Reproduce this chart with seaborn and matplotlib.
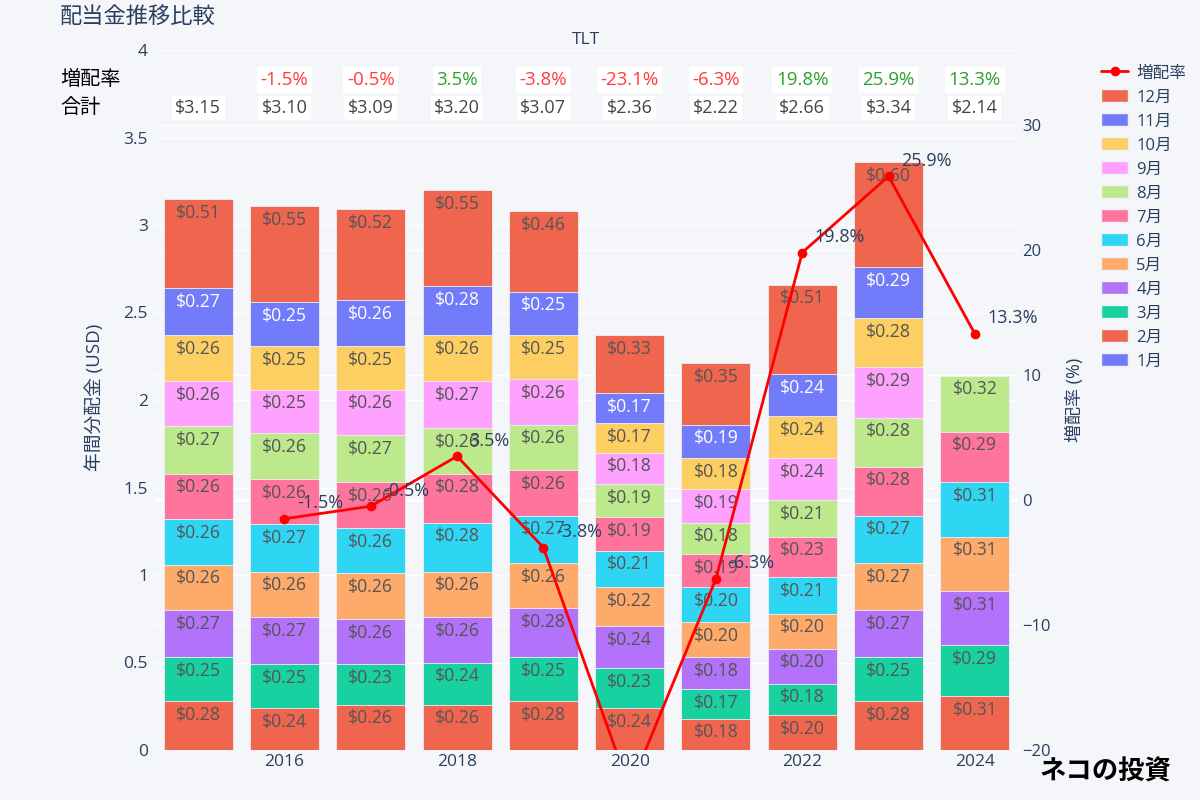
import matplotlib
matplotlib.use('Agg')
import matplotlib.pyplot as plt
import matplotlib.transforms as mtransforms
from matplotlib.lines import Line2D
from matplotlib.patches import Patch
import numpy as np
import pandas as pd
import seaborn as sns

# ---- data ----
years = ['2015', '2016', '2017', '2018', '2019', '2020', '2021', '2022', '2023', '2024']
months = ['1月', '2月', '3月', '4月', '5月', '6月', '7月', '8月', '9月', '10月', '11月', '12月']

# monthly dividend per year (Jan..Dec), USD
div_2015 = [0, 0.28, 0.25, 0.27, 0.26, 0.26, 0.26, 0.27, 0.26, 0.26, 0.27, 0.51]
div_2016 = [0, 0.24, 0.25, 0.27, 0.26, 0.27, 0.26, 0.26, 0.25, 0.25, 0.25, 0.55]
div_2017 = [0, 0.26, 0.23, 0.26, 0.26, 0.26, 0.26, 0.27, 0.26, 0.25, 0.26, 0.52]
div_2018 = [0, 0.26, 0.24, 0.26, 0.26, 0.28, 0.28, 0.26, 0.27, 0.26, 0.28, 0.55]
div_2019 = [0, 0.28, 0.25, 0.28, 0.26, 0.27, 0.26, 0.26, 0.26, 0.25, 0.25, 0.46]
div_2020 = [0, 0.24, 0.23, 0.24, 0.22, 0.21, 0.19, 0.19, 0.18, 0.17, 0.17, 0.33]
div_2021 = [0, 0.18, 0.17, 0.18, 0.20, 0.20, 0.19, 0.18, 0.19, 0.18, 0.19, 0.35]
div_2022 = [0, 0.20, 0.18, 0.20, 0.20, 0.21, 0.23, 0.21, 0.24, 0.24, 0.24, 0.51]
div_2023 = [0, 0.28, 0.25, 0.27, 0.27, 0.27, 0.28, 0.28, 0.29, 0.28, 0.29, 0.60]
div_2024 = [0, 0.31, 0.29, 0.31, 0.31, 0.31, 0.29, 0.32, 0, 0, 0, 0]
dividends = [div_2015, div_2016, div_2017, div_2018, div_2019,
             div_2020, div_2021, div_2022, div_2023, div_2024]

total_labels = ['$3.15', '$3.10', '$3.09', '$3.20', '$3.07', '$2.36', '$2.22', '$2.66', '$3.34', '$2.14']
growth = [np.nan, -1.5, -0.5, 3.5, -3.8, -23.1, -6.3, 19.8, 25.9, 13.3]

# ---- style ----
bg = '#f4f6fa'
txt = '#2a3f5f'
plotly_cols = ['#636EFA', '#EF553B', '#00CC96', '#AB63FA', '#FFA15A', '#19D3F3',
               '#FF6692', '#B6E880', '#FF97FF', '#FECB52', '#636EFA', '#EF553B']


def blend(c, a=0.9):
    r, g, b = matplotlib.colors.to_rgb(c)
    br, bgc, bb = matplotlib.colors.to_rgb(bg)
    return (r * a + br * (1 - a), g * a + bgc * (1 - a), b * a + bb * (1 - a))


month_cols = [blend(c) for c in plotly_cols]

sns.set_theme(style='darkgrid', rc={'axes.facecolor': bg, 'figure.facecolor': bg,
                                    'grid.color': 'white', 'grid.linewidth': 1.0})
plt.rcParams['font.family'] = ['Open Sans', 'Noto Sans CJK JP', 'DejaVu Sans']

fig = plt.figure(figsize=(12, 8), dpi=100)
ax = fig.add_axes([155 / 1200, 50 / 800, 863 / 1200, 700 / 800])
ax_grid = ax.twinx()
ax_line = ax.twinx()
ax_grid.set_zorder(0)
ax.set_zorder(1)
ax_line.set_zorder(2)
ax.patch.set_visible(False)
ax_line.patch.set_visible(False)
ax_grid.patch.set_facecolor(bg)

# ---- stacked bars (cumulative, drawn top month first) ----
vals = np.array(dividends)
cum = np.cumsum(vals, axis=1)
df = pd.DataFrame({'year': years})
for m in range(12):
    df[months[m]] = np.where(vals[:, m] > 0, cum[:, m], np.nan)

for m in range(11, -1, -1):
    if np.all(vals[:, m] == 0):
        continue
    sns.barplot(data=df, x='year', y=months[m], order=years, color=month_cols[m],
                saturation=1, width=0.8, edgecolor='#eef1f7', linewidth=0.6,
                errorbar=None, ax=ax)

for i in range(len(years)):
    for m in range(12):
        v = vals[i, m]
        if v <= 0:
            continue
        col = 'white' if plotly_cols[m] == '#636EFA' else '#555555'
        ax.annotate('\\$%.2f' % v, xy=(i, cum[i, m]), xytext=(0, -10),
                    textcoords='offset points', ha='center', va='center',
                    fontsize=12.7, color=col)

ax.set_xlim(-0.5, len(years) - 0.5)
ax.set_ylim(0, 4)
ax.set_yticks([0, 0.5, 1, 1.5, 2, 2.5, 3, 3.5, 4])
ax.set_yticklabels(['0', '0.5', '1', '1.5', '2', '2.5', '3', '3.5', '4'])
ax.set_xticks(range(1, len(years), 2))
ax.set_xticklabels(years[1::2])
ax.set_xlabel('')
ax.set_ylabel('')
ax.tick_params(axis='both', length=0, labelsize=12.5, labelcolor=txt)
ax.tick_params(axis='y', pad=5)
ax.tick_params(axis='x', pad=3)
ax.grid(axis='x', visible=False)

# ---- right axis grid (behind bars) ----
r_ticks = [-20, -10, 0, 10, 20, 30]
ax_grid.set_ylim(-20, 36)
ax_grid.set_yticks(r_ticks)
ax_grid.grid(axis='y', visible=True, color='white', linewidth=1.0)
ax_grid.axhline(0, color='white', linewidth=2)
ax_grid.tick_params(axis='y', length=0, labelright=False, labelleft=False)

# ---- growth line ----
xs = np.arange(len(years))
sns.lineplot(x=xs[1:], y=growth[1:], ax=ax_line, color='red', marker='o',
             markersize=7, markeredgewidth=0, linewidth=2, legend=False)
for i in range(1, len(years)):
    ax_line.annotate('%.1f%%' % growth[i], xy=(xs[i], growth[i]), xytext=(9, 11),
                     textcoords='offset points', ha='left', va='center',
                     fontsize=13, color=txt, annotation_clip=True)
ax_line.set_ylim(-20, 36)
ax_line.set_yticks(r_ticks)
ax_line.grid(False)
ax_line.set_ylabel('')
ax_line.tick_params(axis='y', length=0, labelsize=12, labelcolor=txt, pad=3)

for a in (ax, ax_grid, ax_line):
    for s in a.spines.values():
        s.set_visible(False)

# ---- header rows ----
trans = mtransforms.blended_transform_factory(ax.transData, fig.transFigure)
fig.text(60 / 1200, 1 - 80 / 800, '増配率', fontsize=14.5, color='black', va='center')
fig.text(60 / 1200, 1 - 108 / 800, '合計', fontsize=14.5, color='black', va='center')
for i in range(len(years)):
    if not np.isnan(growth[i]):
        gcol = '#ff3b3b' if growth[i] < 0 else '#2ca02c'
        ax.text(i, 1 - 80 / 800, '%.1f%%' % growth[i], transform=trans, ha='center',
                va='center', fontsize=13.5, color=gcol,
                bbox=dict(facecolor='white', edgecolor='none', pad=2.5))
    ax.text(i, 1 - 108 / 800, total_labels[i].replace('$', '\\$'), transform=trans,
            ha='center', va='center', fontsize=13, color='#444444',
            bbox=dict(facecolor='white', edgecolor='none', pad=2.5))

# ---- titles & axis labels ----
fig.text(60 / 1200, 1 - 18 / 800, '配当金推移比較', fontsize=16, color=txt, va='center')
fig.text(586 / 1200, 1 - 40 / 800, 'TLT', fontsize=12.5, color=txt, ha='center', va='center')
fig.text(95 / 1200, 1 - 397 / 800, '年間分配金 (USD)', fontsize=13.5, color=txt, rotation=90,
         ha='center', va='center')
fig.text(1075 / 1200, 0.5, '増配率 (%)', fontsize=13, color=txt, rotation=90,
         ha='center', va='center')

# ---- legend ----
handles = [Line2D([0], [0], color='red', marker='o', markersize=7, markeredgewidth=0,
                  linewidth=2)]
labels = ['増配率']
for m in range(11, -1, -1):
    handles.append(Patch(facecolor=month_cols[m], edgecolor='#eef1f7'))
    labels.append(months[m])
fig.legend(handles, labels, loc='upper left', bbox_to_anchor=(1093 / 1200, 1 - 57 / 800),
           frameon=False, fontsize=12, labelcolor=txt, labelspacing=0.47,
           handlelength=1.6, handleheight=0.8, handletextpad=0.5, borderpad=0)

# ---- logo text ----
fig.text(1105 / 1200, 1 - 772 / 800, 'ネコの投資', fontsize=19, fontweight='bold',
         color='black', ha='center', va='center')

fig.savefig('out.png', dpi=100, facecolor=bg)
